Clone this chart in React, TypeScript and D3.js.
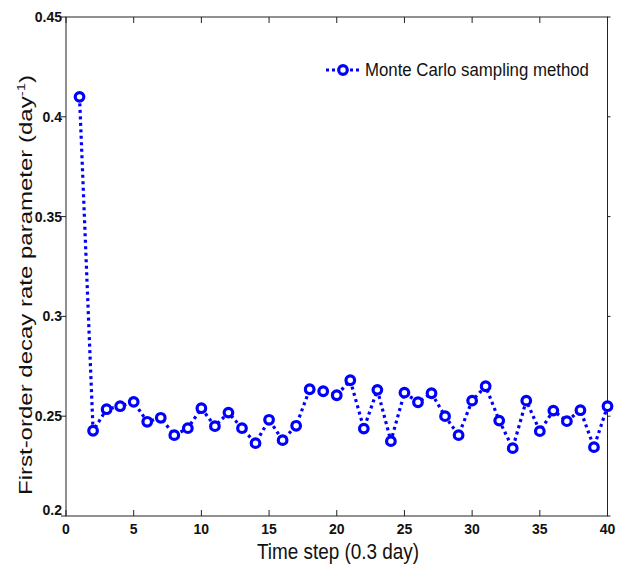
import React from "react";
import * as d3 from "d3";

const steps = d3.range(1, 41);
const mcValues = [
  0.410, 0.2427, 0.2535, 0.2550, 0.2572, 0.2472, 0.2492, 0.2405, 0.2440, 0.2540,
  0.2450, 0.2518, 0.2440, 0.2365, 0.2482, 0.2380, 0.2452, 0.2635, 0.2625, 0.2605,
  0.2680, 0.2438, 0.2632, 0.2375, 0.2618, 0.2570, 0.2615, 0.2500, 0.2405, 0.2578,
  0.2650, 0.2478, 0.2340, 0.2578, 0.2425, 0.2528, 0.2475, 0.2530, 0.2345, 0.2550,
];
const xTicks = [0, 5, 10, 15, 20, 25, 30, 35, 40];
const yTicks = [0.2, 0.25, 0.3, 0.35, 0.4, 0.45];
const legendLabel = "Monte Carlo sampling method";

export default function App() {
  const W = 621, H = 567;
  const L = 66, R = 607.5, T = 17, B = 516;
  const x = d3.scaleLinear().domain([0, 40]).range([L, R]);
  const y = d3.scaleLinear().domain([0.2, 0.45]).range([B, T]);
  const line = d3.line<number>().x((_, i) => x(steps[i])).y((d) => y(d));
  const blue = "#0000ff";
  const font = "'Liberation Sans', Arial, sans-serif";
  const fmt = (v: number) => String(+v.toFixed(2));
  return (
    <svg width={W} height={H} style={{ position: "absolute", left: 0, top: 0 }} fontFamily={font}>
      <rect x={0} y={0} width={W} height={H} fill="#fff" />
      <rect x={L} y={T} width={R - L} height={B - T} fill="none" stroke="#222" strokeWidth={1} />
      {xTicks.map((t) => (
        <g key={"x" + t}>
          <line x1={x(t)} x2={x(t)} y1={B} y2={B - 6} stroke="#222" />
          <line x1={x(t)} x2={x(t)} y1={T} y2={T + 6} stroke="#222" />
          <text x={x(t)} y={B + 18} textAnchor="middle" fontSize={14} fontWeight="bold" fill="#111">{t}</text>
        </g>
      ))}
      {yTicks.map((t) => (
        <g key={"y" + t}>
          <line x1={L - 5} x2={L} y1={y(t)} y2={y(t)} stroke="#222" />
          <line x1={R} x2={R + 3} y1={y(t)} y2={y(t)} stroke="#222" />
          <text x={L - 4} y={y(t) + (t === 0.2 ? -1 : 5)} textAnchor="end" fontSize={14} fontWeight="bold" fill="#111">{fmt(t)}</text>
        </g>
      ))}
      <path d={line(mcValues) || ""} fill="none" stroke={blue} strokeWidth={3.2} strokeDasharray="3,3.5" />
      {mcValues.map((v, i) => (
        <circle key={i} cx={x(steps[i])} cy={y(v)} r={4.3} fill="#fff" stroke={blue} strokeWidth={3.2} />
      ))}
      <g>
        <line x1={326} x2={361} y1={70} y2={70} stroke={blue} strokeWidth={3.2} strokeDasharray="3,3" />
        <circle cx={343} cy={70} r={4.3} fill="#fff" stroke={blue} strokeWidth={3.2} />
        <text transform="translate(365,76) scale(0.96,1)" fontSize={17.5} fill="#111">{legendLabel}</text>
      </g>
      <text transform="translate(338,559) scale(0.86,1)" textAnchor="middle" fontSize={22} fill="#111">Time step (0.3 day)</text>
      <text transform={`translate(32,285) scale(0.78,1) rotate(-90)`} textAnchor="middle" fontSize={24} fill="#111">
        First-order decay rate parameter (day<tspan dy={-9} fontSize={15}>-1</tspan><tspan dy={9}>)</tspan>
      </text>
    </svg>
  );
}
